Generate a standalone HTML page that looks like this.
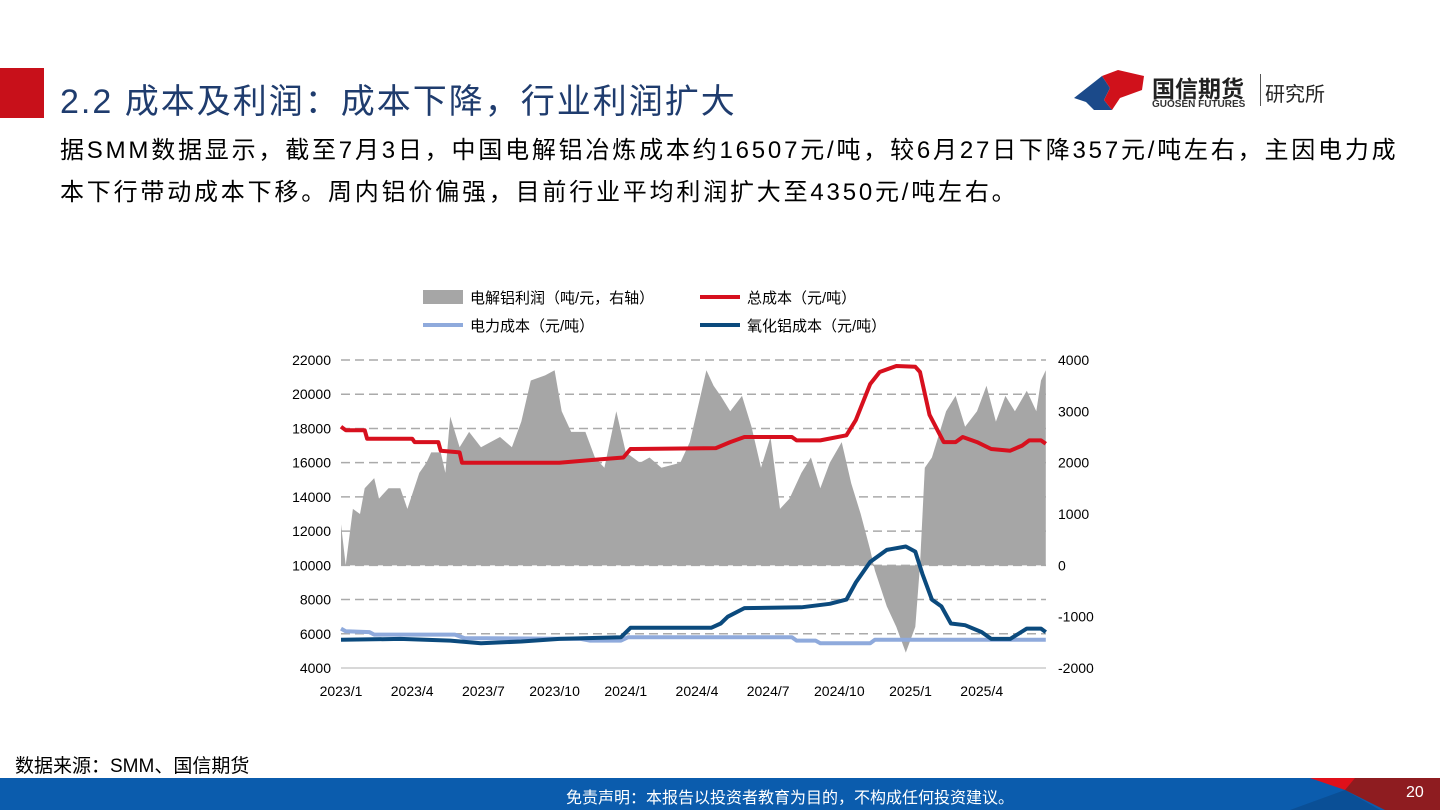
<!DOCTYPE html>
<html><head><meta charset="utf-8">
<style>
body{margin:0;width:1440px;height:810px;overflow:hidden;background:#fff;font-family:"Liberation Sans","Noto Sans CJK SC",sans-serif;position:relative}
.abs{position:absolute}
</style></head>
<body>
<div class="abs" style="left:0;top:68px;width:44px;height:50px;background:#c8101a"></div>
<div class="abs" style="left:60px;top:74px;font-size:34px;letter-spacing:2px;color:#1f3c6e;white-space:nowrap">2.2 成本及利润：成本下降，行业利润扩大</div>
<div class="abs" style="left:1072px;top:68px;width:300px;height:46px">
<svg width="75" height="44" style="position:absolute;left:0;top:0"><polygon points="2,30 30,8 38,20 32,32 40,42 22,42 14,34" fill="#1b4a8a"/><polygon points="30,8 46,2 72,8 70,22 48,30 40,42 32,32 38,20" fill="#d0111b"/></svg>
<div style="position:absolute;left:80px;top:2px;font-size:23px;font-weight:bold;color:#222">国信期货</div>
<div style="position:absolute;left:80px;top:31px;font-size:10px;font-weight:bold;color:#333">GUOSEN FUTURES</div>
<div style="position:absolute;left:188px;top:6px;width:1px;height:32px;background:#555"></div>
<div style="position:absolute;left:193px;top:10px;font-size:20px;color:#222">研究所</div>
</div>
<div class="abs" style="left:60px;top:130px;white-space:nowrap;font-size:24px;line-height:42px;color:#000;letter-spacing:2.8px">据SMM数据显示，截至7月3日，中国电解铝冶炼成本约16507元/吨，较6月27日下降357元/吨左右，主因电力成<br>本下行带动成本下移。周内铝价偏强，目前行业平均利润扩大至4350元/吨左右。</div>

<svg class="abs" style="left:0;top:0" width="1440" height="810" id="chart">
<g id="grid"></g><g id="area"></g><g id="lines"></g><g id="axes"></g><g id="legend"></g>
</svg>

<div class="abs" style="left:15px;top:751px;font-size:19px;color:#000">数据来源：SMM、国信期货</div>
<div class="abs" style="left:0;top:778px;width:1440px;height:32px;background:#0b5cad;overflow:hidden">
<svg width="1440" height="32" style="position:absolute;left:0;top:0"><polygon points="1310,0 1360,0 1345,12" fill="#e0101a"/><polygon points="1355,0 1440,0 1440,32 1385,32 1345,12" fill="#8e1c20"/><polygon points="1290,32 1345,12 1380,32" fill="#0a4f96"/></svg>
<div style="position:absolute;left:0;width:1580px;top:6px;text-align:center;font-size:16px;color:#fff">免责声明：本报告以投资者教育为目的，不构成任何投资建议。</div>
<div style="position:absolute;left:1406px;top:6px;font-size:16px;color:#fff">20</div>
</div>

<script>
const xTickLabels=["2023/1","2023/4","2023/7","2023/10","2024/1","2024/4","2024/7","2024/10","2025/1","2025/4"];
const leftTicks=[4000,6000,8000,10000,12000,14000,16000,18000,20000,22000];
const rightTicks=[-2000,-1000,0,1000,2000,3000,4000];
const profitT=[0,0.2,0.5,0.8,1.0,1.4,1.6,2.0,2.5,2.8,3.3,3.6,3.8,4.2,4.4,4.6,5.0,5.4,5.9,6.3,6.7,7.2,7.6,8.0,8.6,9.0,9.3,9.7,10.3,10.7,11.1,11.6,12.0,12.6,13.0,13.5,14.3,14.7,15.1,15.4,15.7,16.0,16.4,16.9,17.3,17.7,18.1,18.5,18.9,19.4,19.8,20.2,20.6,21.1,21.5,21.9,22.3,22.5,23.0,23.4,23.8,24.2,24.4,24.6,24.9,25.5,25.9,26.3,26.8,27.2,27.6,28.0,28.4,28.9,29.3,29.5,29.7];
const profitV=[800,0,1100,1000,1500,1700,1300,1500,1500,1100,1800,2000,2200,2200,1800,2900,2300,2600,2300,2400,2500,2300,2800,3600,3700,3800,3000,2600,2600,2100,1900,3000,2200,2000,2100,1900,2000,2400,3200,3800,3500,3300,3000,3300,2700,1900,2500,1100,1300,1800,2100,1500,2000,2400,1600,1000,300,-100,-800,-1200,-1700,-1200,0,1900,2100,3000,3300,2700,3000,3500,2800,3300,3000,3400,3000,3600,3800];
const totalT=[0,0.2,1.0,1.1,3.0,3.1,4.1,4.2,5.0,5.1,9.2,10.5,11.9,12.2,15.8,16.4,17.0,19.0,19.2,20.2,21.3,21.7,22.3,22.7,23.4,24.2,24.4,24.8,25.1,25.4,25.9,26.2,26.8,27.4,28.2,28.7,29.0,29.5,29.7];
const totalV=[18100,17900,17900,17400,17400,17200,17200,16700,16600,16000,16000,16150,16300,16800,16850,17200,17500,17500,17300,17300,17600,18500,20600,21300,21650,21600,21300,18800,18000,17200,17200,17500,17200,16800,16700,17000,17300,17300,17100];
const powerT=[0,0.2,1.2,1.4,4.8,5.2,10.1,10.5,11.8,12.1,19.0,19.2,20.0,20.2,22.3,22.5,29.7];
const powerV=[6300,6150,6100,5950,5950,5750,5700,5600,5600,5800,5800,5600,5600,5450,5450,5650,5650];
const aluT=[0,2.5,4.6,5.9,7.6,9.2,11.8,12.2,15.6,16.0,16.3,17.0,19.4,20.6,21.3,21.7,22.3,23.0,23.8,24.2,24.5,24.9,25.3,25.7,26.3,27.0,27.4,28.2,28.9,29.5,29.7];
const aluV=[5650,5700,5600,5450,5550,5700,5800,6350,6350,6600,7000,7500,7550,7750,8000,9000,10200,10900,11100,10800,9500,8000,7600,6600,6500,6100,5700,5700,6300,6300,6100];

const NS="http://www.w3.org/2000/svg";
const X0=341,MW=23.73,Y0=360,Y1=668;
const xs=t=>X0+t*MW;
const yl=v=>Y0+(22000-v)/18000*(Y1-Y0);
const yr=v=>Y0+(4000-v)/6000*(Y1-Y0);
function mk(tag,attrs,parent,txt){const e=document.createElementNS(NS,tag);for(const k in attrs)e.setAttribute(k,attrs[k]);if(txt!==undefined)e.textContent=txt;document.getElementById(parent).appendChild(e);return e;}

leftTicks.forEach(v=>{
  if(v>4000){const g=mk('line',{x1:X0,x2:1046,y1:yl(v),y2:yl(v),stroke:'#aaa','stroke-width':1.5,'stroke-dasharray':'9,5'},'grid');
  
  }
  const t=mk('text',{x:331,y:yl(v)+5,'text-anchor':'end','font-size':14,fill:'#000'},'axes',v);
  
  
});
rightTicks.forEach(v=>{
  const t=mk('text',{x:1058,y:yr(v)+5,'font-size':14,fill:'#000'},'axes',v);
  
  
});
const ax=mk('line',{x1:X0,x2:1046,y1:Y1,y2:Y1,stroke:'#ccc','stroke-width':1.5},'axes');


xTickLabels.forEach((s,i)=>{
  const t=mk('text',{x:xs(i*3),y:696,'text-anchor':'middle','font-size':14,fill:'#000'},'axes',s);
  
  
});
let d='M'+xs(profitT[0])+','+yr(0);
for(let i=0;i<profitT.length&&i<profitV.length;i++)d+=' L'+xs(profitT[i]).toFixed(1)+','+yr(profitV[i]).toFixed(1);
d+=' L'+xs(profitT[profitT.length-1])+','+yr(0)+' Z';
const ar=mk('path',{d:d,fill:'#a6a6a6'},'area');


function line(T,V,color,name){
  const p=T.map((t,i)=>xs(t).toFixed(1)+','+yl(V[i]).toFixed(1)).join(' ');
  const e=mk('polyline',{points:p,fill:'none',stroke:color,'stroke-width':4,'stroke-linejoin':'round'},'lines');
  
  
}
line(powerT,powerV,'#8faadc','power-cost-line');
line(aluT,aluV,'#0b4a7d','alumina-cost-line');
line(totalT,totalV,'#d7101e','total-cost-line');
const lg=[[423,297,'rect','#a6a6a6','电解铝利润（吨/元，右轴）'],[700,297,'line','#d7101e','总成本（元/吨）'],[423,325,'line','#8faadc','电力成本（元/吨）'],[700,325,'line','#0b4a7d','氧化铝成本（元/吨）']];
lg.forEach(L=>{
  let m;
  if(L[2]==='rect')m=mk('rect',{x:L[0],y:L[1]-7,width:40,height:14,fill:L[3]},'legend');
  else m=mk('line',{x1:L[0],x2:L[0]+40,y1:L[1],y2:L[1],stroke:L[3],'stroke-width':4},'legend');
  
  
  const t=mk('text',{x:L[0]+47,y:L[1]+6,'font-size':15,fill:'#000'},'legend',L[4]);
  
  
});
</script>
</body></html>
